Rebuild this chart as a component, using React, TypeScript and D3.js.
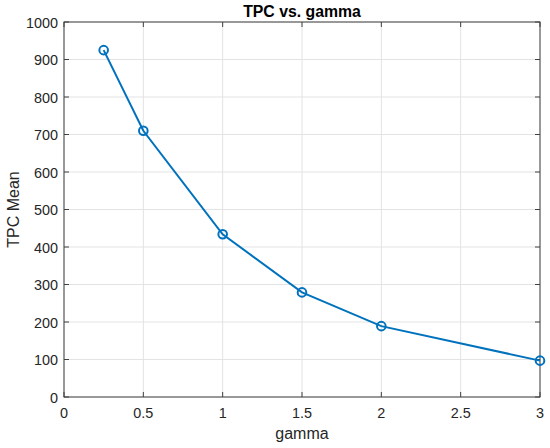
import { useEffect, useRef } from 'react';
import * as d3 from 'd3';

const gammaValues = [0.25, 0.5, 1, 1.5, 2, 3];
const tpcMean = [925, 710, 434, 279, 189, 97];
const xTicks = [0, 0.5, 1, 1.5, 2, 2.5, 3];
const yTicks = [0, 100, 200, 300, 400, 500, 600, 700, 800, 900, 1000];

export default function App() {
  const ref = useRef<SVGSVGElement>(null);

  useEffect(() => {
    if (!ref.current) return;
    const svg = d3.select(ref.current);
    svg.selectAll('*').remove();

    const width = 550;
    const height = 448;
    const margin = { top: 22, right: 10, bottom: 51, left: 64 };
    const font = 'Arial, "Liberation Sans", Helvetica, sans-serif';

    const x = d3.scaleLinear().domain([0, 3]).range([margin.left, width - margin.right]);
    const y = d3.scaleLinear().domain([0, 1000]).range([height - margin.bottom, margin.top]);

    svg.append('rect').attr('width', width).attr('height', height).attr('fill', '#ffffff');

    // grid
    const grid = svg.append('g').attr('stroke', '#e3e3e3').attr('stroke-width', 1);
    xTicks.forEach(t => {
      grid.append('line')
        .attr('x1', x(t)).attr('x2', x(t))
        .attr('y1', y(0)).attr('y2', y(1000));
    });
    yTicks.forEach(t => {
      grid.append('line')
        .attr('x1', x(0)).attr('x2', x(3))
        .attr('y1', y(t)).attr('y2', y(t));
    });

    // box
    svg.append('rect')
      .attr('x', x(0)).attr('y', y(1000))
      .attr('width', x(3) - x(0)).attr('height', y(0) - y(1000))
      .attr('fill', 'none').attr('stroke', '#404040').attr('stroke-width', 1);

    // ticks on all sides, pointing inward
    const tickLen = 5;
    const ticks = svg.append('g').attr('stroke', '#404040').attr('stroke-width', 1);
    xTicks.forEach(t => {
      ticks.append('line').attr('x1', x(t)).attr('x2', x(t)).attr('y1', y(0)).attr('y2', y(0) - tickLen);
      ticks.append('line').attr('x1', x(t)).attr('x2', x(t)).attr('y1', y(1000)).attr('y2', y(1000) + tickLen);
    });
    yTicks.forEach(t => {
      ticks.append('line').attr('x1', x(0)).attr('x2', x(0) + tickLen).attr('y1', y(t)).attr('y2', y(t));
      ticks.append('line').attr('x1', x(3)).attr('x2', x(3) - tickLen).attr('y1', y(t)).attr('y2', y(t));
    });

    // tick labels
    svg.append('g').selectAll('text').data(xTicks).enter().append('text')
      .attr('x', d => x(d)).attr('y', y(0) + 21)
      .attr('text-anchor', 'middle')
      .attr('font-family', font).attr('font-size', 14.4).attr('fill', '#262626')
      .text(d => String(d));

    svg.append('g').selectAll('text').data(yTicks).enter().append('text')
      .attr('x', x(0) - 6).attr('y', d => y(d) + 5.5)
      .attr('text-anchor', 'end')
      .attr('font-family', font).attr('font-size', 14.4).attr('fill', '#262626')
      .text(d => String(d));

    // axis labels and title
    svg.append('text')
      .attr('x', (x(0) + x(3)) / 2).attr('y', 439)
      .attr('text-anchor', 'middle')
      .attr('font-family', font).attr('font-size', 16).attr('fill', '#262626')
      .text('gamma');

    svg.append('text')
      .attr('transform', `translate(18.5, ${(y(0) + y(1000)) / 2}) rotate(-90)`)
      .attr('text-anchor', 'middle')
      .attr('font-family', font).attr('font-size', 16).attr('fill', '#262626')
      .text('TPC Mean');

    svg.append('text')
      .attr('x', (x(0) + x(3)) / 2).attr('y', 17)
      .attr('text-anchor', 'middle')
      .attr('font-family', font).attr('font-size', 15.8).attr('font-weight', 'bold').attr('fill', '#000000')
      .text('TPC vs. gamma');

    // series
    const pts = gammaValues.map((g, i) => [g, tpcMean[i]] as [number, number]);
    const line = d3.line<[number, number]>().x(d => x(d[0])).y(d => y(d[1]));

    svg.append('path')
      .attr('d', line(pts) as string)
      .attr('fill', 'none')
      .attr('stroke', '#0072BD')
      .attr('stroke-width', 2);

    svg.append('g').selectAll('circle').data(pts).enter().append('circle')
      .attr('cx', d => x(d[0])).attr('cy', d => y(d[1]))
      .attr('r', 4.3)
      .attr('fill', 'none')
      .attr('stroke', '#0072BD')
      .attr('stroke-width', 2);
  }, []);

  return (
    <svg
      ref={ref}
      width={550}
      height={448}
      style={{ display: 'block', position: 'absolute', left: 0, top: 0 }}
    />
  );
}
